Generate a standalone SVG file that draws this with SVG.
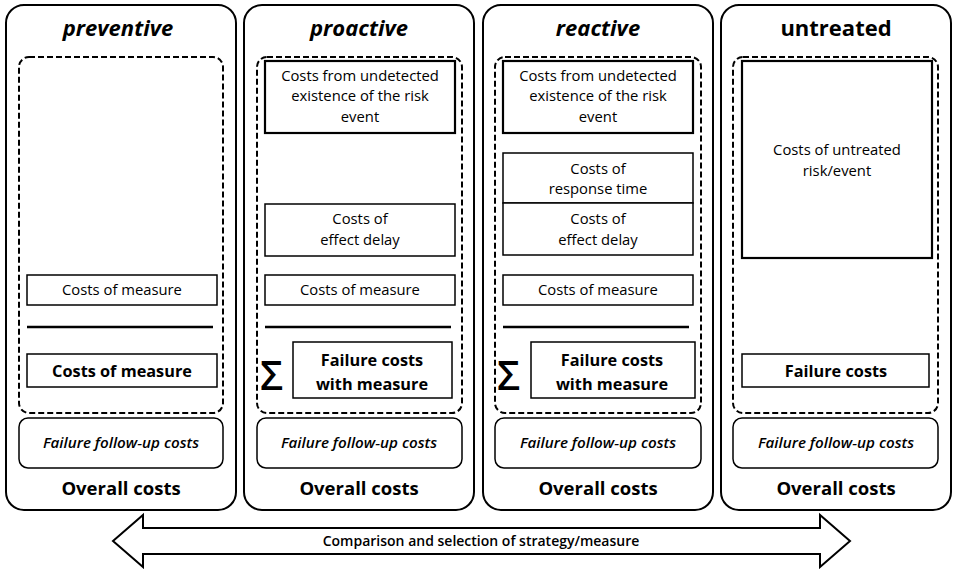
<svg xmlns="http://www.w3.org/2000/svg" width="954" height="569" viewBox="0 0 954 569">
<style>
text{font-family:"Open Sans","Liberation Sans",sans-serif;fill:#000;text-anchor:middle}
.outer{fill:#fff;stroke:#000;stroke-width:2}
.dash{fill:none;stroke:#000;stroke-width:2;stroke-dasharray:6,3}
.thin{fill:#fff;stroke:#000;stroke-width:1.5}
.thick{fill:#fff;stroke:#000;stroke-width:2.2}
.ff{fill:#fff;stroke:#000;stroke-width:1.5}
.sep{stroke:#000;stroke-width:2.5}
.title{font-size:22px;font-weight:bold}
.it{font-style:italic}
.lbl{font-size:14.8px}
.blbl{font-size:16.3px;font-weight:bold}
.fft{font-size:15.2px;font-style:italic;font-weight:600}
.oc{font-size:18.5px;font-weight:bold}
.sig{font-size:40px;font-weight:600;text-anchor:start}
</style>
<rect width="954" height="569" fill="#fff"/>
<g id="preventive">
<rect class="outer" x="6" y="5" width="230" height="505" rx="18"/>
<text class="title it" x="118" y="36">preventive</text>
<rect class="dash" x="19" y="57" width="204" height="356" rx="10"/>
<rect class="thin" x="27" y="275" width="190" height="30"/>
<text class="lbl" x="122" y="295">Costs of measure</text>
<line class="sep" x1="27" y1="327" x2="213" y2="327"/>
<rect class="thin" x="27" y="354" width="190" height="33"/>
<text class="blbl" x="122" y="377">Costs of measure</text>
<rect class="ff" x="19" y="418" width="204" height="50" rx="9"/>
<text class="fft" x="121" y="448">Failure follow-up costs</text>
<text class="oc" x="121" y="495">Overall costs</text>
</g>
<g id="proactive">
<rect class="outer" x="244" y="5" width="230" height="505" rx="18"/>
<text class="title it" x="359" y="36">proactive</text>
<rect class="dash" x="257" y="57" width="205" height="356" rx="10"/>
<rect class="thick" x="265" y="61" width="190" height="72"/>
<text class="lbl" x="360" y="81">Costs from undetected</text>
<text class="lbl" x="360" y="101">existence of the risk</text>
<text class="lbl" x="360" y="122">event</text>
<rect class="thin" x="265" y="204" width="190" height="52"/>
<text class="lbl" x="360" y="224">Costs of</text>
<text class="lbl" x="360" y="245">effect delay</text>
<rect class="thin" x="265" y="275" width="190" height="30"/>
<text class="lbl" x="360" y="295">Costs of measure</text>
<line class="sep" x1="265" y1="327" x2="451" y2="327"/>
<text class="sig" x="260" y="390">Σ</text>
<rect class="thin" x="293" y="342" width="159" height="56"/>
<text class="blbl" x="372" y="366">Failure costs</text>
<text class="blbl" x="372" y="390">with measure</text>
<rect class="ff" x="257" y="418" width="205" height="50" rx="9"/>
<text class="fft" x="359" y="448">Failure follow-up costs</text>
<text class="oc" x="359" y="495">Overall costs</text>
</g>
<g id="reactive">
<rect class="outer" x="483" y="5" width="230" height="505" rx="18"/>
<text class="title it" x="598" y="36">reactive</text>
<rect class="dash" x="495" y="57" width="206" height="356" rx="10"/>
<rect class="thick" x="503" y="61" width="190" height="72"/>
<text class="lbl" x="598" y="81">Costs from undetected</text>
<text class="lbl" x="598" y="101">existence of the risk</text>
<text class="lbl" x="598" y="122">event</text>
<rect class="thin" x="503" y="153" width="190" height="50"/>
<text class="lbl" x="598" y="174">Costs of</text>
<text class="lbl" x="598" y="194">response time</text>
<rect class="thin" x="503" y="203" width="190" height="52"/>
<text class="lbl" x="598" y="224">Costs of</text>
<text class="lbl" x="598" y="245">effect delay</text>
<rect class="thin" x="503" y="275" width="190" height="30"/>
<text class="lbl" x="598" y="295">Costs of measure</text>
<line class="sep" x1="503" y1="327" x2="689" y2="327"/>
<text class="sig" x="497" y="390">Σ</text>
<rect class="thin" x="531" y="342" width="164" height="56"/>
<text class="blbl" x="612" y="366">Failure costs</text>
<text class="blbl" x="612" y="390">with measure</text>
<rect class="ff" x="495" y="418" width="206" height="50" rx="9"/>
<text class="fft" x="598" y="448">Failure follow-up costs</text>
<text class="oc" x="598" y="495">Overall costs</text>
</g>
<g id="untreated">
<rect class="outer" x="721" y="5" width="230" height="505" rx="18"/>
<text class="title" x="836" y="36">untreated</text>
<rect class="dash" x="733" y="57" width="205" height="356" rx="10"/>
<rect class="thick" x="742" y="61" width="190" height="197"/>
<text class="lbl" x="837" y="155">Costs of untreated</text>
<text class="lbl" x="837" y="176">risk/event</text>
<rect class="thin" x="742" y="354" width="187" height="33"/>
<text class="blbl" x="836" y="377">Failure costs</text>
<rect class="ff" x="733" y="418" width="205" height="50" rx="9"/>
<text class="fft" x="836" y="448">Failure follow-up costs</text>
<text class="oc" x="836" y="495">Overall costs</text>
</g>
<g id="connectors">
<path d="M113,541 L143,515 L143,528 L820,528 L820,515 L850,541 L820,567 L820,554 L143,554 L143,567 Z" fill="#fff" stroke="#000" stroke-width="2" stroke-linejoin="miter"/>
<text x="481" y="546" style="font-size:14px;font-weight:600">Comparison and selection of strategy/measure</text>
</g>
</svg>
